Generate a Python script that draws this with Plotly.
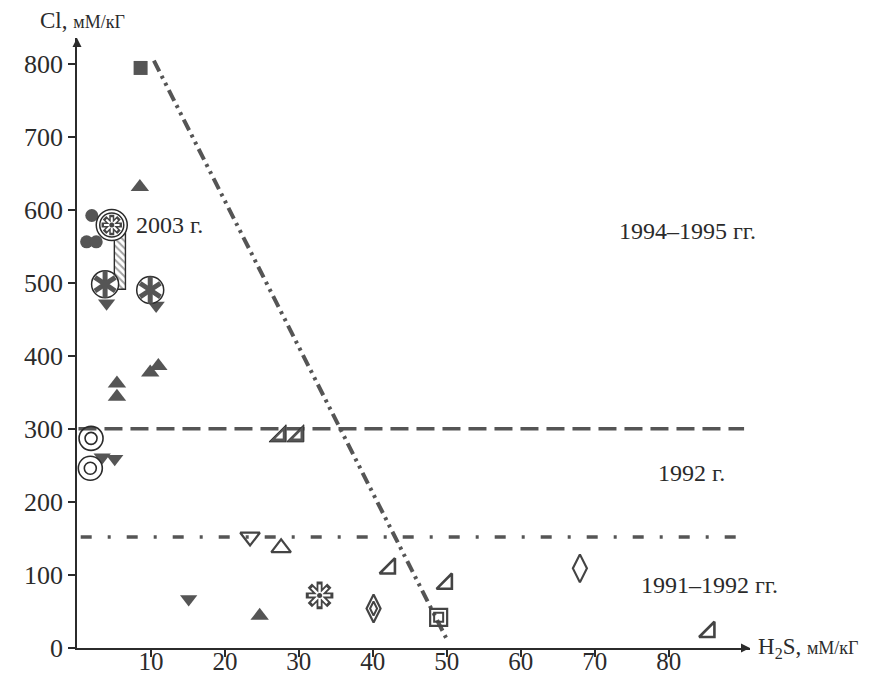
import plotly.graph_objects as go

# ---------------- data ----------------
filled_square_x = [8.6]
filled_square_y = [794]
filled_tri_up_x = [8.5, 5.4, 5.4, 9.9, 11.0, 24.7]
filled_tri_up_y = [631, 362, 344, 377, 386, 44]
filled_circle_x = [2.0, 1.3, 2.6]
filled_circle_y = [592, 556, 556]
filled_tri_down_x = [3.4, 5.1, 15.1, 4.0, 10.7]
filled_tri_down_y = [261, 259, 67, 472, 469]
circled_flower_x = [3.8, 9.9]
circled_flower_y = [498, 490]
ring_2003_x = [4.7]
ring_2003_y = [579]
range_2003_x = [5.8]
range_2003_low = [491]
range_2003_high = [578]
double_circle_x = [1.9, 1.8]
double_circle_y = [287, 246]
hatched_rtri_x = [27.5, 29.9]
hatched_rtri_y = [290, 290]
open_tri_down_x = [23.4]
open_tri_down_y = [152]
open_tri_up_x = [27.6]
open_tri_up_y = [137]
asterisk_x = [32.8]
asterisk_y = [72]
double_diamond_x = [40.1]
double_diamond_y = [54]
open_rtri_x = [42.3, 50.0, 85.5]
open_rtri_y = [109, 88, 22]
double_square_x = [48.9]
double_square_y = [42]
open_diamond_x = [68.0]
open_diamond_y = [109]

line_1992_x = [0.2, 90.2]
line_1992_y = [300, 300]
line_1991_x = [0.5, 90.4]
line_1991_y = [152, 152]
line_1994_x = [10.4, 49.9]
line_1994_y = [804, 14]

x_max = 91
y_max = 835
x_tick_vals = [10, 20, 30, 40, 50, 60, 70, 80]
y_tick_vals = [0, 100, 200, 300, 400, 500, 600, 700, 800]

region_labels = ["2003 г.", "1994–1995 гг.", "1992 г.", "1991–1992 гг."]
region_label_x = [7.7, 73.0, 78.3, 76.0]
region_label_y = [579, 571, 239, 86]

# ---------------- styling ----------------
FONT = "Liberation Serif"
DARK = "#2b2b2b"
GREY = "#555555"
INK = "#444444"

fig = go.Figure()


def pts(x, y, symbol, size, color, lw=0.0, lc=None):
    fig.add_trace(go.Scatter(
        x=x, y=y, mode="markers", cliponaxis=False, hoverinfo="skip",
        marker=dict(symbol=symbol, size=size, color=color,
                    line=dict(width=lw, color=lc if lc else color)),
    ))


def line(x, y, dash, width=3.5):
    fig.add_trace(go.Scatter(
        x=x, y=y, mode="lines", cliponaxis=False, hoverinfo="skip",
        line=dict(color=GREY, width=width, dash=dash),
    ))


# boundary lines
line(line_1992_x, line_1992_y, "18px,8px", 3.5)
line(line_1991_x, line_1991_y, "11px,16px,3px,16px", 3.5)
line(line_1994_x, line_1994_y, "12px,5px,3px,5px,3px,5px", 4)

# hatched range bar of 2003
fig.add_trace(go.Bar(
    x=range_2003_x,
    y=[h - l for h, l in zip(range_2003_high, range_2003_low)],
    base=range_2003_low, width=1.5, hoverinfo="skip",
    marker=dict(color="white", line=dict(color=DARK, width=1.4),
                pattern=dict(shape="\\", fgcolor=INK, bgcolor="white",
                             size=5, solidity=0.4)),
))

# filled markers
pts(filled_circle_x, filled_circle_y, "circle", 13, GREY)
pts(filled_square_x, filled_square_y, "square", 14, GREY)
pts(filled_tri_up_x, filled_tri_up_y, "triangle-up", 16, GREY)
pts(filled_tri_down_x, filled_tri_down_y, "triangle-down", 15, GREY)

# 2003 ringed flower
pts(ring_2003_x, ring_2003_y, "circle", 31, "white", 1.5, DARK)
pts(ring_2003_x, ring_2003_y, "circle-open", 24, DARK, 1.5, DARK)
pts(ring_2003_x, ring_2003_y, "asterisk-open", 17, INK, 5, INK)
pts(ring_2003_x, ring_2003_y, "asterisk-open", 13, "white", 2, "white")
pts(ring_2003_x, ring_2003_y, "circle", 5, INK)

# circled filled flowers
pts(circled_flower_x, circled_flower_y, "circle", 27, "white", 1.5, DARK)
pts(circled_flower_x, circled_flower_y, "y-up-open", 17, GREY, 5, GREY)
pts(circled_flower_x, circled_flower_y, "y-down-open", 17, GREY, 5, GREY)

# double circles
pts(double_circle_x, double_circle_y, "circle-open", 24, DARK, 1.6, DARK)
pts(double_circle_x, double_circle_y, "circle-open", 12, DARK, 1.6, DARK)

# hatched right triangles
pts(hatched_rtri_x, hatched_rtri_y, "triangle-se", 19, GREY, 1, DARK)
pts(hatched_rtri_x, hatched_rtri_y, "triangle-se", 8, "white")

# open markers
pts(open_tri_down_x, open_tri_down_y, "triangle-down-open", 17, INK, 2.2, INK)
pts(open_tri_up_x, open_tri_up_y, "triangle-up-open", 17, INK, 2.2, INK)
pts(open_rtri_x, open_rtri_y, "triangle-se-open", 17, INK, 2.6, INK)
pts(open_diamond_x, open_diamond_y, "diamond-tall-open", 20, INK, 2.2, INK)
pts(double_diamond_x, double_diamond_y, "diamond-tall-open", 20, INK, 2.2, INK)
pts(double_diamond_x, double_diamond_y, "diamond-tall-open", 10, INK, 2, INK)
pts(double_square_x, double_square_y, "square-open", 17, INK, 2.2, INK)
pts(double_square_x, double_square_y, "square-open", 9, INK, 2, INK)

# outlined asterisk
pts(asterisk_x, asterisk_y, "asterisk-open", 23, INK, 6, INK)
pts(asterisk_x, asterisk_y, "asterisk-open", 18, "white", 2.4, "white")
pts(asterisk_x, asterisk_y, "circle", 5, INK)

# axis arrowheads at the ends of the axis lines
pts([x_max], [0], "arrow-right", 9, DARK)
pts([0], [y_max], "arrow-up", 9, DARK)

# region labels
for t, x, y in zip(region_labels, region_label_x, region_label_y):
    fig.add_annotation(x=x, y=y, text=t, showarrow=False, xanchor="left",
                       yanchor="middle", font=dict(family=FONT, size=24, color=DARK))

# axis titles
fig.add_annotation(x=x_max, y=0, xshift=6, text="H<sub>2</sub>S, <span style='font-size:18px'>мМ/кГ</span>",
                   showarrow=False, xanchor="left", yanchor="middle",
                   font=dict(family=FONT, size=23, color=DARK))
fig.add_annotation(x=0.8, xref="x", y=1.028, yref="paper",
                   text="Cl, <span style='font-size:18px'>мМ/кГ</span>",
                   showarrow=False, xanchor="center", yanchor="middle",
                   font=dict(family=FONT, size=23, color=DARK))

axis_common = dict(showgrid=False, zeroline=False, showline=True, linecolor=DARK,
                   linewidth=1.6, ticks="outside", ticklen=7, tickwidth=1.5,
                   tickcolor=DARK, automargin=False, fixedrange=True)

fig.update_layout(
    width=878, height=679, autosize=False,
    margin=dict(l=69, r=136, t=30, b=39),
    paper_bgcolor="white", plot_bgcolor="white",
    showlegend=False,
    xaxis=dict(range=[0, x_max], tickvals=x_tick_vals, ticklabelstandoff=-17,
               tickfont=dict(family=FONT, size=25, color=DARK), **axis_common),
    yaxis=dict(range=[0, y_max], tickvals=y_tick_vals,
               tickfont=dict(family=FONT, size=26, color=DARK), **axis_common),
)

fig.write_html("out.html")
